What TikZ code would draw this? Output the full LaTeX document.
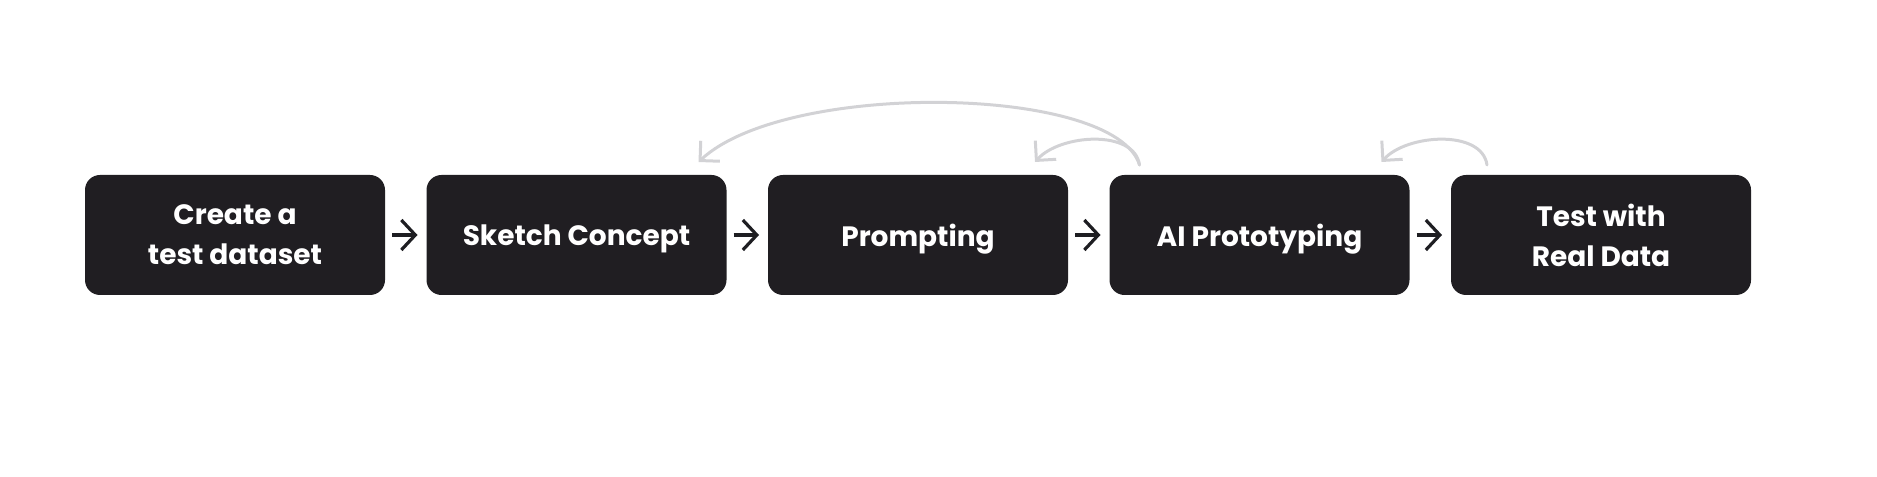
\documentclass[tikz,border=0pt]{standalone}
\usepackage{fontspec}
\setmainfont{Poppins}
\usetikzlibrary{positioning,arrows.meta,calc}
\definecolor{boxfill}{HTML}{201E22}
\definecolor{backgray}{HTML}{D2D2D5}
\definecolor{arrowink}{HTML}{1E1E22}

\begin{document}
\begin{tikzpicture}[
        stepbox/.style={fill=boxfill, text=white, rounded corners=7.5pt,
            minimum width=150pt, minimum height=60pt, inner sep=0pt, outer sep=0pt,
            align=center, text depth=0pt, font=\fontsize{14}{20}\selectfont\bfseries},
        flow/.style={arrowink, line width=1.6pt, -{Straight Barb[length=7pt,width=15pt]},
            shorten <=3.5pt, shorten >=4.5pt},
        backarc/.style={backgray, line width=1.5pt, line cap=round,
            -{Straight Barb[length=7pt,width=14pt]}}
    ]
        \useasboundingbox (0,0) rectangle (938.5pt,238pt);

        \node[stepbox] (create) at (117.5pt,120.5pt) {Create a\\test dataset};
        \node[stepbox, right=20.75pt of create] (sketch) {Sketch Concept};
        \node[stepbox, right=20.75pt of sketch] (prompt) {Prompting};
        \node[stepbox, right=20.75pt of prompt] (proto) {AI Prototyping};
        \node[stepbox, right=20.75pt of proto] (test) {Test with\\Real Data};

        \foreach \a/\b in {create/sketch, sketch/prompt, prompt/proto, proto/test} {
            \draw[flow] (\a) -- (\b);
        }

        \coordinate (bigstart) at ($(proto.north west)+(15pt,5pt)$);
        \coordinate (bigend) at ($(sketch.north east)+(-14pt,6.5pt)$);
        \coordinate (smallend) at ($(prompt.north east)+(-16.5pt,6.5pt)$);
        \coordinate (teststart) at ($(test.north west)+(18pt,5pt)$);
        \coordinate (testend) at ($(proto.north east)+(-14pt,6.5pt)$);

        \draw[backarc] (bigstart) .. controls ($(bigstart)+(-12pt,40pt)$) and ($(bigend)+(44pt,41pt)$) .. (bigend);
        \draw[backarc] (bigstart) .. controls ($(bigstart)+(-2.5pt,18pt)$) and ($(smallend)+(12.5pt,14pt)$) .. (smallend);
        \draw[backarc] (teststart) .. controls ($(teststart)+(-2.5pt,18pt)$) and ($(testend)+(12.5pt,14pt)$) .. (testend);
    \end{tikzpicture}
\end{document}
